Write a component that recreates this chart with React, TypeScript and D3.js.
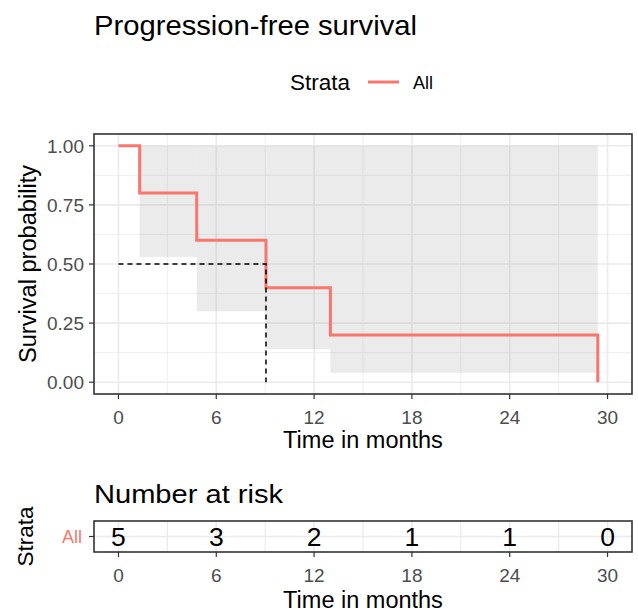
import React from "react";
import * as d3 from "d3";

const stepTimes = [0, 1.3, 4.8, 9.05, 13.0, 29.4];
const survival = [1, 0.8, 0.6, 0.4, 0.2, 0];
const ciLower = [1, 0.53, 0.3, 0.14, 0.04];
const ciUpper = [1, 1, 1, 1, 1];
const medianTime = 9.05;
const xTicks = [0, 6, 12, 18, 24, 30];
const xMinor = [3, 9, 15, 21, 27];
const yTicks = [0, 0.25, 0.5, 0.75, 1];
const yMinor = [0.125, 0.375, 0.625, 0.875];
const riskTimes = [0, 6, 12, 18, 24, 30];
const nAtRisk = [5, 3, 2, 1, 1, 0];
const strataName = "All";

const FONT = "'Liberation Sans', Arial, Helvetica, sans-serif";
const RED = "#F8766D";
const TICK_COL = "#4D4D4D";

export default function App() {
  const pL = 94, pR = 632, pT = 134, pB = 394;
  const rT = 521, rB = 552;
  const x = d3.scaleLinear().domain([-1.5, 31.5]).range([pL, pR]);
  const y = d3.scaleLinear().domain([-0.05, 1.05]).range([pB, pT]);
  const rMid = (rT + rB) / 2;

  // step line
  const pts: [number, number][] = [];
  for (let i = 0; i < stepTimes.length; i++) {
    if (i > 0) pts.push([stepTimes[i], survival[i - 1]]);
    pts.push([stepTimes[i], survival[i]]);
  }
  const line = d3.line<[number, number]>().x((d) => x(d[0])).y((d) => y(d[1]));

  const ribbons = ciLower.map((lo, i) => ({
    x0: stepTimes[i],
    x1: stepTimes[i + 1],
    lo,
    hi: ciUpper[i],
  }));

  return (
    <svg
      width={638}
      height={613}
      style={{ position: "absolute", left: 0, top: 0, background: "#fff" }}
      fontFamily={FONT}
    >
      <rect x={0} y={0} width={638} height={613} fill="#fff" />
      {/* Title */}
      <text x={94} y={35} fontSize={28} textLength={323} lengthAdjust="spacingAndGlyphs" fill="#000">
        Progression-free survival
      </text>
      {/* Legend */}
      <text x={290} y={90} fontSize={22.5} textLength={60} lengthAdjust="spacingAndGlyphs" fill="#000">
        Strata
      </text>
      <line x1={368} x2={399} y1={82} y2={82} stroke={RED} strokeWidth={3} />
      <text x={413} y={88.5} fontSize={18} fill="#000">
        {strataName}
      </text>

      {/* Main panel */}
      <g>
        {xMinor.map((t) => (
          <line key={"xm" + t} x1={x(t)} x2={x(t)} y1={pT} y2={pB} stroke="#EBEBEB" strokeWidth={0.8} />
        ))}
        {yMinor.map((t) => (
          <line key={"ym" + t} x1={pL} x2={pR} y1={y(t)} y2={y(t)} stroke="#EBEBEB" strokeWidth={0.8} />
        ))}
        {xTicks.map((t) => (
          <line key={"xg" + t} x1={x(t)} x2={x(t)} y1={pT} y2={pB} stroke="#EBEBEB" strokeWidth={1.6} />
        ))}
        {yTicks.map((t) => (
          <line key={"yg" + t} x1={pL} x2={pR} y1={y(t)} y2={y(t)} stroke="#EBEBEB" strokeWidth={1.6} />
        ))}
        {ribbons.map((r, i) => (
          <rect
            key={"rb" + i}
            x={x(r.x0)}
            width={x(r.x1) - x(r.x0)}
            y={y(r.hi)}
            height={y(r.lo) - y(r.hi)}
            fill="#999"
            fillOpacity={0.2}
          />
        ))}
        <path d={line(pts) || ""} fill="none" stroke={RED} strokeWidth={3} />
        <path
          d={`M${x(0)},${y(0.5)}H${x(medianTime)}V${y(0)}`}
          fill="none"
          stroke="#000"
          strokeWidth={1.5}
          strokeDasharray="5,4"
        />
        <rect x={pL} y={pT} width={pR - pL} height={pB - pT} fill="none" stroke="#333" strokeWidth={1.6} />
        {yTicks.map((t) => (
          <g key={"yt" + t}>
            <line x1={pL - 5} x2={pL} y1={y(t)} y2={y(t)} stroke="#333" strokeWidth={1.2} />
            <text x={84} y={y(t) + 6.8} fontSize={19} textAnchor="end" fill={TICK_COL}>
              {t.toFixed(2)}
            </text>
          </g>
        ))}
        {xTicks.map((t) => (
          <g key={"xt" + t}>
            <line x1={x(t)} x2={x(t)} y1={pB} y2={pB + 5} stroke="#333" strokeWidth={1.2} />
            <text x={x(t)} y={424} fontSize={19} textAnchor="middle" fill={TICK_COL}>
              {t}
            </text>
          </g>
        ))}
        <text
          transform={`translate(35.5,${(pT + pB) / 2}) rotate(-90)`}
          fontSize={23.5}
          textAnchor="middle"
          textLength={198}
          lengthAdjust="spacingAndGlyphs"
          fill="#000"
        >
          Survival probability
        </text>
        <text x={(pL + pR) / 2} y={448} fontSize={23.5} textAnchor="middle" fill="#000">
          Time in months
        </text>
      </g>

      {/* Risk table */}
      <g>
        <text x={94} y={503} fontSize={26} textLength={189} lengthAdjust="spacingAndGlyphs" fill="#000">
          Number at risk
        </text>
        {xMinor.map((t) => (
          <line key={"rxm" + t} x1={x(t)} x2={x(t)} y1={rT} y2={rB} stroke="#EBEBEB" strokeWidth={1.2} />
        ))}
        {xTicks.map((t) => (
          <line key={"rxg" + t} x1={x(t)} x2={x(t)} y1={rT} y2={rB} stroke="#EBEBEB" strokeWidth={1.6} />
        ))}
        <line x1={pL} x2={pR} y1={rMid} y2={rMid} stroke="#EBEBEB" strokeWidth={1.6} />
        {riskTimes.map((t, i) => (
          <text key={"n" + t} x={x(t)} y={rMid + 9.5} fontSize={26.5} textAnchor="middle" fill="#000">
            {nAtRisk[i]}
          </text>
        ))}
        <rect x={pL} y={rT} width={pR - pL} height={rB - rT} fill="none" stroke="#333" strokeWidth={1.6} />
        <line x1={pL - 5} x2={pL} y1={rMid} y2={rMid} stroke="#333" strokeWidth={1.2} />
        <text x={82} y={rMid + 6.5} fontSize={18} textAnchor="end" fill={RED}>
          {strataName}
        </text>
        {xTicks.map((t) => (
          <g key={"rxt" + t}>
            <line x1={x(t)} x2={x(t)} y1={rB} y2={rB + 5} stroke="#333" strokeWidth={1.2} />
            <text x={x(t)} y={582} fontSize={19} textAnchor="middle" fill={TICK_COL}>
              {t}
            </text>
          </g>
        ))}
        <text
          transform={`translate(33,${rMid}) rotate(-90)`}
          fontSize={22.5}
          textAnchor="middle"
          textLength={60}
          lengthAdjust="spacingAndGlyphs"
          fill="#000"
        >
          Strata
        </text>
        <text x={(pL + pR) / 2} y={608} fontSize={23.5} textAnchor="middle" fill="#000">
          Time in months
        </text>
      </g>
    </svg>
  );
}
